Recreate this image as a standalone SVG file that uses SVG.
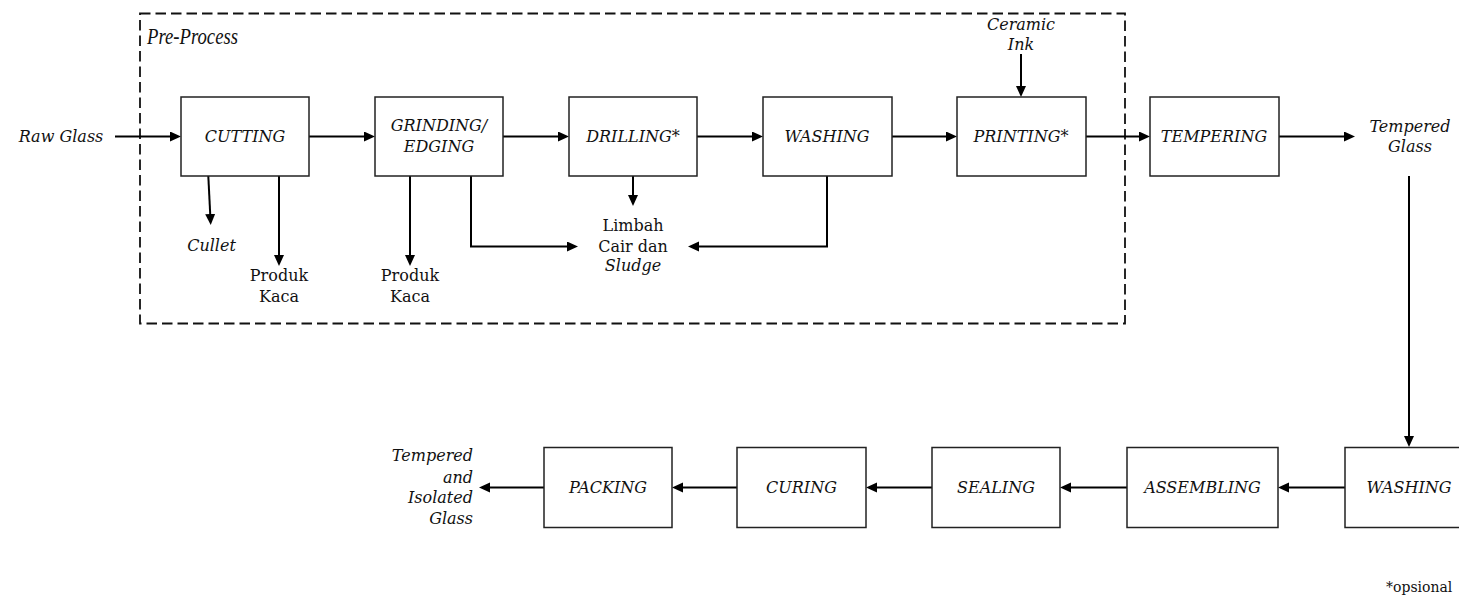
<svg xmlns="http://www.w3.org/2000/svg" width="1459" height="598" viewBox="0 0 1459 598">
<style>
text{font-family:"DejaVu Serif","Liberation Serif",serif;font-size:16px;fill:#111}
.i{font-style:italic}
.c{text-anchor:middle}
.box{fill:#fff;stroke:#222;stroke-width:1.5}
.ln{fill:none;stroke:#000;stroke-width:2}
.dash{fill:none;stroke:#111;stroke-width:1.8;stroke-dasharray:10.5,5}
</style>
<defs>
<marker id="ah" markerUnits="userSpaceOnUse" markerWidth="12" markerHeight="11" refX="2" refY="5" orient="auto">
<path d="M0,0 L11,5 L0,10 z" fill="#000"/>
</marker>
</defs>
<rect width="1459" height="598" fill="#fff"/>
<g id="preprocess">
<rect class="dash" x="140" y="13.5" width="985" height="310"/>
<text class="i" x="147" y="43.5" style="font-family:'Liberation Serif',serif;font-size:23.5px" textLength="91" lengthAdjust="spacingAndGlyphs">Pre-Process</text>
</g>
<g id="connectors">
<path class="ln" marker-end="url(#ah)" d="M115,136.5 H172"/>
<path class="ln" marker-end="url(#ah)" d="M309,136.5 H366"/>
<path class="ln" marker-end="url(#ah)" d="M503,136.5 H560"/>
<path class="ln" marker-end="url(#ah)" d="M697,136.5 H754"/>
<path class="ln" marker-end="url(#ah)" d="M892,136.5 H948"/>
<path class="ln" marker-end="url(#ah)" d="M1086,136.5 H1141"/>
<path class="ln" marker-end="url(#ah)" d="M1279,136.5 H1346"/>
<path class="ln" marker-end="url(#ah)" d="M208.3,176 L210.3,216"/>
<path class="ln" marker-end="url(#ah)" d="M279,176 V257"/>
<path class="ln" marker-end="url(#ah)" d="M410,176 V257"/>
<path class="ln" marker-end="url(#ah)" d="M471,176 V246.5 H569"/>
<path class="ln" marker-end="url(#ah)" d="M633,176 V197"/>
<path class="ln" marker-end="url(#ah)" d="M827,176 V246.5 H697"/>
<path class="ln" marker-end="url(#ah)" d="M1021,54 V88"/>
<path class="ln" marker-end="url(#ah)" d="M1409,176 V438"/>
<path class="ln" marker-end="url(#ah)" d="M1345,487.5 H1287"/>
<path class="ln" marker-end="url(#ah)" d="M1127,487.5 H1069"/>
<path class="ln" marker-end="url(#ah)" d="M932,487.5 H875"/>
<path class="ln" marker-end="url(#ah)" d="M737,487.5 H681"/>
<path class="ln" marker-end="url(#ah)" d="M544,487.5 H488"/>
</g>
<g id="raw-glass"><text class="i c" x="61" y="142">Raw Glass</text></g>
<g id="cutting"><rect class="box" x="181" y="97" width="128" height="79"/><text class="i c" x="245" y="142">CUTTING</text></g>
<g id="grinding"><rect class="box" x="375" y="97" width="128" height="79"/><text class="i c" x="439" y="131">GRINDING/</text><text class="i c" x="439" y="152">EDGING</text></g>
<g id="drilling"><rect class="box" x="569" y="97" width="128" height="79"/><text class="i c" x="633" y="142">DRILLING*</text></g>
<g id="washing1"><rect class="box" x="763" y="97" width="129" height="79"/><text class="i c" x="827" y="142">WASHING</text></g>
<g id="printing"><rect class="box" x="957" y="97" width="129" height="79"/><text class="i c" x="1021" y="142">PRINTING*</text></g>
<g id="tempering"><rect class="box" x="1150" y="97" width="129" height="79"/><text class="i c" x="1214" y="142">TEMPERING</text></g>
<g id="cullet"><text class="i c" x="211.5" y="251">Cullet</text></g>
<g id="produk1"><text class="c" x="279" y="281">Produk</text><text class="c" x="279" y="302">Kaca</text></g>
<g id="produk2"><text class="c" x="410" y="281">Produk</text><text class="c" x="410" y="302">Kaca</text></g>
<g id="limbah"><text class="c" x="633" y="231">Limbah</text><text class="c" x="633" y="252">Cair dan</text><text class="i c" x="633" y="271">Sludge</text></g>
<g id="ceramic-ink"><text class="i c" x="1021" y="30">Ceramic</text><text class="i c" x="1021" y="49.5">Ink</text></g>
<g id="tempered-glass"><text class="i c" x="1410" y="132">Tempered</text><text class="i c" x="1410" y="152">Glass</text></g>
<g id="washing2"><rect class="box" x="1345" y="447.5" width="129" height="80"/><text class="i c" x="1409" y="493">WASHING</text></g>
<g id="assembling"><rect class="box" x="1127" y="447.5" width="151" height="80"/><text class="i c" x="1202.5" y="493">ASSEMBLING</text></g>
<g id="sealing"><rect class="box" x="932" y="447.5" width="128" height="80"/><text class="i c" x="996" y="493">SEALING</text></g>
<g id="curing"><rect class="box" x="737" y="447.5" width="129" height="80"/><text class="i c" x="801.5" y="493">CURING</text></g>
<g id="packing"><rect class="box" x="544" y="447.5" width="128" height="80"/><text class="i c" x="608" y="493">PACKING</text></g>
<g id="output"><text class="i" text-anchor="end" x="473" y="461">Tempered</text><text class="i" text-anchor="end" x="473" y="482.5">and</text><text class="i" text-anchor="end" x="473" y="503">Isolated</text><text class="i" text-anchor="end" x="473" y="523.5">Glass</text></g>
<g id="note"><text x="1386" y="592" style="font-size:14px">*opsional</text></g>
</svg>
